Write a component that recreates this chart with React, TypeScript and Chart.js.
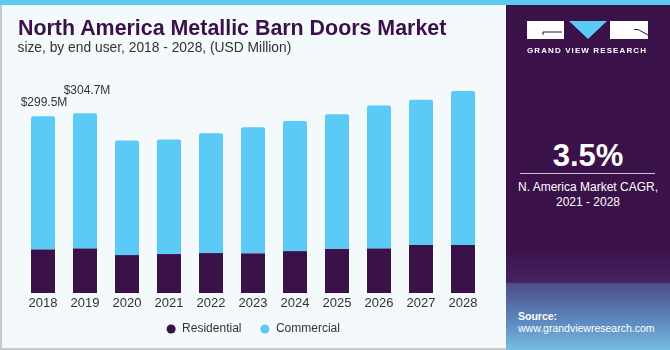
import React, { useEffect, useRef } from "react";
import { Chart, registerables } from "chart.js";

Chart.register(...registerables);

const years = ["2018", "2019", "2020", "2021", "2022", "2023", "2024", "2025", "2026", "2027", "2028"];
const residential = [73.9, 75.6, 64.3, 66.0, 67.7, 67.2, 71.0, 74.4, 75.6, 81.2, 81.2];
const commercial = [225.6, 229.1, 194.1, 194.0, 203.0, 213.7, 220.5, 228.5, 242.4, 246.5, 261.1];
const totalLabels = ["$299.5M", "$304.7M"];
const seriesNames = ["Residential", "Commercial"];

const FONT = '"Liberation Sans", Arial, Helvetica, sans-serif';
const PURPLE = "#3A1149";
const BLUE = "#5BCAF6";

const totalLabelPlugin = {
  id: "totalLabels",
  afterDatasetsDraw(chart: any) {
    const ctx = chart.ctx;
    const meta = chart.getDatasetMeta(1);
    const gaps = [10, 19];
    const dx = [1, 2];
    ctx.save();
    ctx.font = `12px ${FONT}`;
    ctx.fillStyle = "#333333";
    ctx.textAlign = "center";
    ctx.textBaseline = "alphabetic";
    totalLabels.forEach((t, i) => {
      const bar = meta.data[i];
      if (!bar) return;
      ctx.fillText(t, bar.x + dx[i], bar.y - gaps[i]);
    });
    ctx.restore();
  },
};

function BarChart() {
  const ref = useRef<HTMLCanvasElement | null>(null);
  useEffect(() => {
    if (!ref.current) return;
    const chart = new Chart(ref.current, {
      type: "bar",
      data: {
        labels: years,
        datasets: [
          {
            label: seriesNames[0],
            data: residential,
            backgroundColor: PURPLE,
            borderWidth: 0,
            categoryPercentage: 1,
            barPercentage: 24 / 42,
          },
          {
            label: seriesNames[1],
            data: commercial,
            backgroundColor: BLUE,
            borderWidth: 0,
            borderRadius: { topLeft: 2, topRight: 2, bottomLeft: 0, bottomRight: 0 },
            borderSkipped: false,
            categoryPercentage: 1,
            barPercentage: 24 / 42,
          },
        ],
      },
      options: {
        animation: false,
        responsive: false,
        layout: { padding: { left: 22, right: 22, top: 57, bottom: 3 } },
        plugins: {
          legend: {
            position: "bottom",
            labels: {
              usePointStyle: true,
              pointStyle: "circle",
              boxWidth: 10,
              boxHeight: 6.4,
              padding: 8.4,
              color: "#333333",
              font: { size: 12, family: FONT },
              generateLabels: (c: any) => {
                const items = (Chart.defaults as any).plugins.legend.labels.generateLabels(c);
                return items.map((it: any, i: number) => ({
                  ...it,
                  text: i === 0 ? it.text + "   " : it.text,
                }));
              },
            },
          },
          tooltip: { enabled: false },
        },
        scales: {
          x: {
            stacked: true,
            grid: { display: false, drawTicks: false },
            border: { display: false },
            ticks: { color: "#333333", font: { size: 13, family: FONT }, padding: 3 },
          },
          y: { stacked: true, display: false, min: 0, max: 400 },
        },
      } as any,
      plugins: [totalLabelPlugin],
    });
    return () => chart.destroy();
  }, []);
  return <canvas ref={ref} width={506} height={348} style={{ position: "absolute", left: 0, top: 0 }} />;
}

function Logo() {
  return (
    <svg width={670} height={60} style={{ position: "absolute", left: 0, top: 0 }}>
      <rect x={527} y={21} width={37} height={18} fill="#ffffff" />
      <polyline points="562,32 543,32 543,35" fill="none" stroke={PURPLE} strokeWidth={1} />
      <polygon points="569,21 607,21 588,39" fill={BLUE} />
      <rect x={610} y={21} width={38} height={18} fill="#ffffff" />
      <polyline points="634,29.5 638,29.5 648,35" fill="none" stroke={PURPLE} strokeWidth={1} />
    </svg>
  );
}

export default function App() {
  return (
    <div
      style={{
        position: "fixed",
        left: 0,
        top: 0,
        width: 670,
        height: 350,
        overflow: "hidden",
        fontFamily: FONT,
        background: "#F4F9FC",
      }}
    >
      <div
        style={{
          position: "absolute",
          left: 0,
          top: 0,
          width: 506,
          height: 350,
          background: "#F4F9FC",
          borderLeft: "2px solid #c9c9c9",
          borderBottom: "2px solid #c9c9c9",
          boxSizing: "border-box",
        }}
      />
      <BarChart />
      <div
        style={{
          position: "absolute",
          left: 18,
          top: 18,
          fontSize: 21.4,
          lineHeight: "21.4px",
          fontWeight: 700,
          color: PURPLE,
          whiteSpace: "nowrap",
        }}
      >
        North America Metallic Barn Doors Market
      </div>
      <div
        style={{
          position: "absolute",
          left: 17.5,
          top: 41.3,
          fontSize: 13.8,
          lineHeight: "13.8px",
          color: "#333333",
          whiteSpace: "nowrap",
        }}
      >
        size, by end user, 2018 - 2028, (USD Million)
      </div>
      <div
        style={{
          position: "absolute",
          left: 506,
          top: 0,
          width: 164,
          height: 350,
          background:
            "linear-gradient(to bottom, #3A1149 0%, #3A1149 70%, #45225f 80.5%, #4f4f8c 81.2%, #5a84bb 91%, #78bde3 100%)",
        }}
      />
      <div style={{ position: "absolute", left: 0, top: 0, width: 670, height: 5, background: "#5BCAF0" }} />
      <Logo />
      <div
        style={{
          position: "absolute",
          left: 527,
          top: 46.7,
          fontSize: 8,
          lineHeight: "8px",
          fontWeight: 700,
          letterSpacing: 1.1,
          color: "#ffffff",
          whiteSpace: "nowrap",
        }}
      >
        GRAND VIEW RESEARCH
      </div>
      <div
        style={{
          position: "absolute",
          left: 506,
          width: 164,
          top: 139.7,
          fontSize: 31,
          lineHeight: "31px",
          fontWeight: 700,
          color: "#ffffff",
          textAlign: "center",
        }}
      >
        3.5%
      </div>
      <div style={{ position: "absolute", left: 520, top: 173, width: 135, height: 1, background: "#cfc6d8" }} />
      <div
        style={{
          position: "absolute",
          left: 506,
          width: 164,
          top: 179.8,
          fontSize: 12,
          lineHeight: "15px",
          color: "#ffffff",
          textAlign: "center",
        }}
      >
        N. America Market CAGR,
        <br />
        2021 - 2028
      </div>
      <div
        style={{
          position: "absolute",
          left: 518,
          top: 311,
          fontSize: 10.5,
          lineHeight: "10.5px",
          fontWeight: 700,
          color: "#ffffff",
        }}
      >
        Source:
      </div>
      <div
        style={{
          position: "absolute",
          left: 518,
          top: 322.6,
          fontSize: 10.5,
          lineHeight: "10.5px",
          color: "#ffffff",
          whiteSpace: "nowrap",
        }}
      >
        www.grandviewresearch.com
      </div>
    </div>
  );
}
